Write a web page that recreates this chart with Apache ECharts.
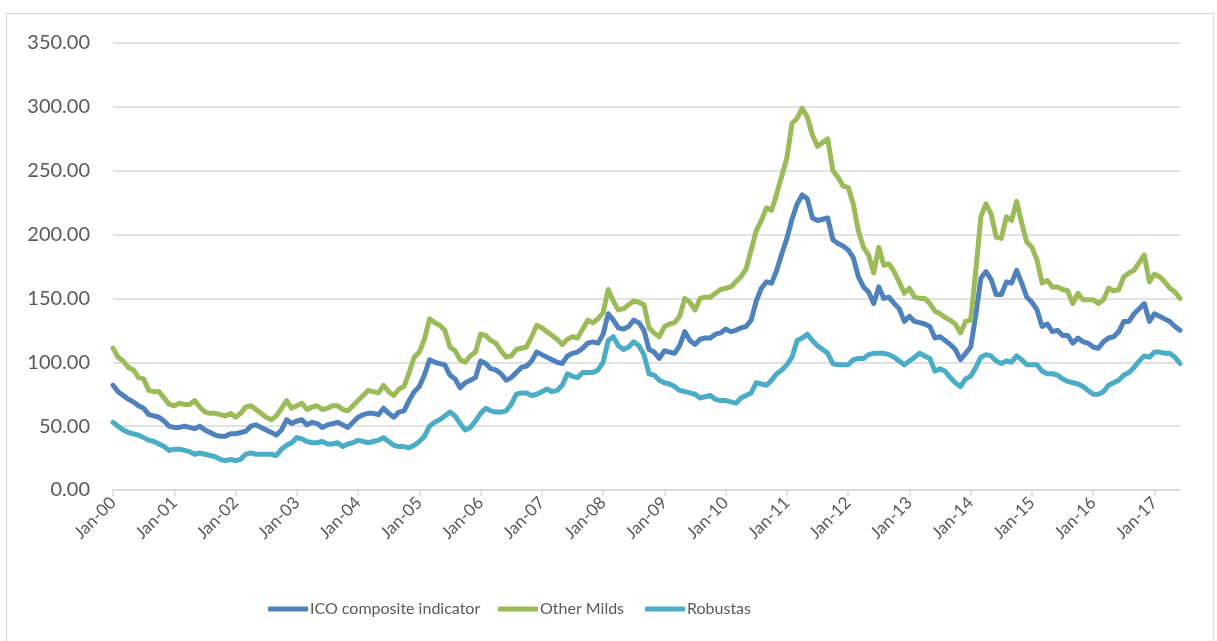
<!DOCTYPE html>
<html>
<head>
<meta charset="utf-8">
<script src="https://cdn.jsdelivr.net/npm/echarts@6/dist/echarts.min.js"></script>
<style>
  html, body { margin: 0; padding: 0; background: #fff; }
  #frame { position: absolute; left: 6px; top: 13px; width: 1208px; height: 640px; border: 1px solid #d9d9d9; box-sizing: border-box; }
  #chart { position: absolute; left: 0; top: 0; width: 1217px; height: 641px; }
</style>
</head>
<body>
<div id="frame"></div>
<div id="chart"></div>
<script>
// monthly categories Jan-00 .. Jun-17
const monthNames = ["Jan", "Feb", "Mar", "Apr", "May", "Jun", "Jul", "Aug", "Sep", "Oct", "Nov", "Dec"];
const years = ["00", "01", "02", "03", "04", "05", "06", "07", "08", "09", "10", "11", "12", "13", "14", "15", "16", "17"];
const categories = [];
years.forEach(y => monthNames.forEach(m => categories.push(m + "-" + y)));
categories.length = 210;

const seriesNames = ["ICO composite indicator", "Other Milds", "Robustas"];

const icoComposite = [
  82, 77, 74, 71, 69, 66, 64, 59, 58, 57, 54, 50,
  49, 49, 50, 49, 48, 50, 47, 45, 43, 42, 42, 44,
  44, 45, 46, 50, 51, 49, 47, 45, 43, 47, 55, 52,
  54, 55, 51, 53, 52, 49, 51, 52, 53, 51, 49, 53,
  57, 59, 60, 60, 59, 64, 60, 57, 61, 62, 70, 77,
  81, 90, 102, 100, 99, 98, 90, 87, 80, 84, 86, 88,
  101, 99, 95, 94, 91, 86, 88, 92, 96, 97, 101, 108,
  106, 104, 102, 100, 99, 105, 107, 108, 111, 115, 116, 115,
  122, 138, 133, 127, 126, 128, 133, 131, 125, 110, 108, 103,
  109, 108, 107, 113, 124, 117, 114, 118, 119, 119, 122, 123,
  126, 124, 125, 127, 128, 133, 148, 158, 163, 162, 172, 185,
  197, 212, 224, 231, 228, 213, 211, 212, 213, 196, 193, 191,
  188, 182, 167, 159, 155, 146, 159, 150, 151, 146, 142, 132,
  136, 132, 131, 130, 128, 119, 120, 117, 114, 110, 102, 107,
  112, 137, 166, 171, 165, 153, 153, 163, 162, 172, 162, 151,
  147, 141, 128, 130, 124, 125, 121, 121, 115, 119, 116, 115,
  112, 111, 116, 119, 120, 124, 132, 132, 138, 142, 146, 132,
  138, 136, 134, 132, 128, 125
];

const otherMilds = [
  111, 104, 101, 96, 94, 88, 87, 78, 77, 77, 72, 67,
  66, 68, 67, 67, 70, 65, 61, 60, 60, 59, 58, 60,
  57, 60, 65, 66, 63, 60, 57, 55, 58, 64, 70, 64,
  66, 68, 63, 65, 66, 63, 64, 66, 66, 63, 62, 66,
  70, 74, 78, 77, 76, 82, 77, 74, 79, 81, 92, 104,
  108, 118, 134, 131, 129, 125, 112, 109, 102, 100, 105, 108,
  122, 121, 117, 115, 109, 104, 105, 110, 111, 112, 120, 129,
  127, 124, 121, 118, 114, 118, 120, 119, 126, 133, 131, 134,
  139, 157, 148, 141, 142, 145, 148, 147, 145, 127, 123, 120,
  128, 130, 131, 136, 150, 147, 141, 150, 151, 151, 154, 157,
  158, 159, 163, 167, 173, 188, 203, 211, 221, 219, 232, 246,
  260, 287, 291, 299, 292, 278, 269, 272, 275, 250, 245, 238,
  237, 224, 203, 190, 184, 170, 190, 176, 177, 171, 163, 154,
  158, 151, 150, 150, 146, 140, 138, 135, 133, 130, 123, 132,
  133, 172, 214, 224, 216, 198, 197, 214, 211, 226, 209, 194,
  190, 180, 162, 164, 159, 159, 157, 156, 146, 154, 149, 149,
  149, 146, 149, 158, 156, 157, 167, 170, 172, 178, 184, 163,
  169, 167, 163, 158, 155, 150
];

const robustas = [
  53, 50, 47, 45, 44, 43, 41, 39, 38, 36, 34, 31,
  32, 32, 31, 30, 28, 29, 28, 27, 26, 24, 23, 24,
  23, 24, 28, 29, 28, 28, 28, 28, 27, 32, 35, 37,
  41, 40, 38, 37, 37, 38, 36, 36, 37, 34, 36, 37,
  39, 38, 37, 38, 39, 41, 38, 35, 34, 34, 33, 35,
  38, 42, 50, 53, 55, 58, 61, 58, 52, 47, 49, 54,
  60, 64, 62, 61, 61, 62, 67, 75, 76, 76, 74, 75,
  77, 79, 77, 78, 82, 91, 89, 88, 92, 92, 92, 94,
  100, 117, 120, 113, 110, 112, 116, 113, 106, 91, 90, 86,
  84, 83, 81, 78, 77, 76, 75, 72, 73, 74, 71, 70,
  70, 69, 68, 72, 74, 76, 84, 83, 82, 86, 91, 94,
  98, 104, 117, 119, 122, 117, 113, 110, 107, 99, 98, 98,
  98, 102, 103, 103, 106, 107, 107, 107, 106, 104, 101, 98,
  101, 104, 107, 105, 103, 93, 95, 93, 88, 84, 81, 87,
  89, 96, 104, 106, 105, 101, 99, 101, 100, 105, 102, 98,
  98, 98, 93, 91, 91, 90, 87, 85, 84, 83, 81, 78,
  75, 75, 77, 82, 84, 86, 90, 92, 96, 101, 105, 104,
  108, 108, 107, 107, 104, 99
];

const colors = ["#4f81bd", "#9bbb59", "#4bacc6"];
const legendLefts = [268, 498, 645];
const font = "Lato, 'Open Sans', sans-serif";

const chart = echarts.init(document.getElementById("chart"), null, { renderer: "canvas" });

const makeLine = (name, data, color) => ({
  name,
  type: "line",
  data,
  showSymbol: false,
  symbol: "none",
  smooth: false,
  lineStyle: { color, width: 5, join: "round", cap: "round" },
  itemStyle: { color },
});

// one legend per series so each sits where the original puts it
const legends = seriesNames.map((name, i) => ({
  data: [name],
  top: 601,
  left: legendLefts[i],
  padding: 0,
  icon: "roundRect",
  itemWidth: 40,
  itemHeight: 5,
  textStyle: { color: "#595959", fontSize: 16, fontFamily: font, padding: [0, 0, 0, -3] },
}));

chart.setOption({
  animation: false,
  backgroundColor: "transparent",
  grid: { left: 113, right: 37, top: 43, bottom: 151, containLabel: false },
  legend: legends,
  xAxis: {
    type: "category",
    data: categories,
    boundaryGap: false,
    axisLine: { lineStyle: { color: "#d9d9d9", width: 1.5 } },
    axisTick: { interval: 11, length: 6, lineStyle: { color: "#d9d9d9", width: 1.5 } },
    axisLabel: {
      interval: 11,
      rotate: 45,
      margin: 10,
      color: "#595959",
      fontSize: 17,
      fontFamily: font,
    },
    splitLine: { show: false },
  },
  yAxis: {
    type: "value",
    min: 0,
    max: 350,
    interval: 50,
    axisLine: { show: false },
    axisTick: { show: false },
    axisLabel: {
      margin: 23,
      color: "#595959",
      fontSize: 20,
      fontFamily: font,
      formatter: v => v.toFixed(2),
    },
    splitLine: { lineStyle: { color: "#d9d9d9", width: 1.5 } },
  },
  series: [
    makeLine(seriesNames[0], icoComposite, colors[0]),
    makeLine(seriesNames[1], otherMilds, colors[1]),
    makeLine(seriesNames[2], robustas, colors[2]),
  ],
});

window.addEventListener("resize", () => chart.resize());
</script>
</body>
</html>
